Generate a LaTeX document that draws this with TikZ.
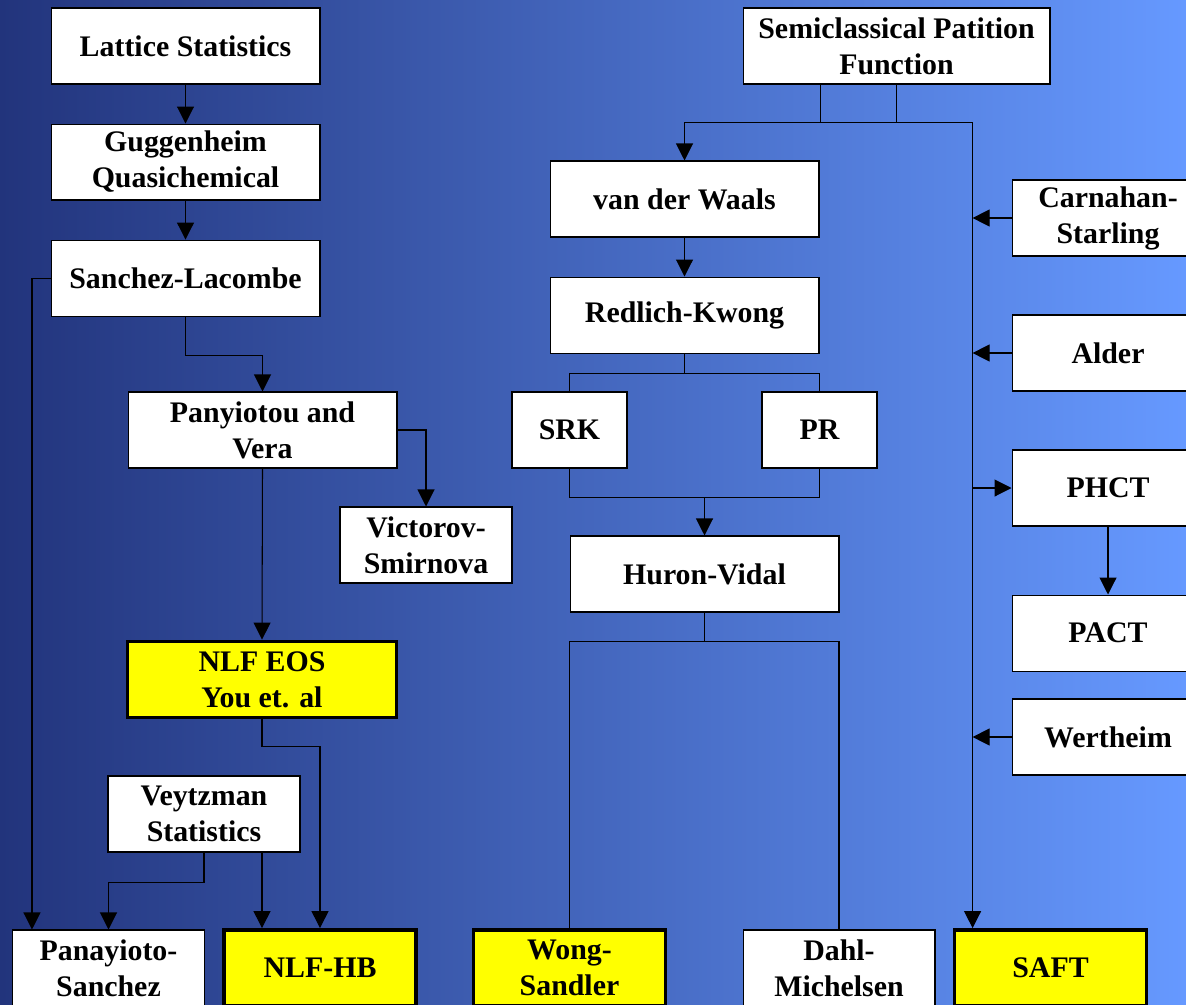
\documentclass[tikz,border=0pt]{standalone}
\usepackage{fontspec}
\setmainfont{Liberation Serif}
\usepackage{tikz}
\usetikzlibrary{arrows.meta,positioning}

\definecolor{bgleft}{RGB}{34,52,124}
\definecolor{bgright}{RGB}{102,153,255}
\definecolor{hiyellow}{RGB}{255,255,0}
\tikzset{
  box/.style={draw, fill=white, line width=0.6pt, minimum height=1.52cm,
    align=center, inner sep=2pt, font=\fontsize{17}{20.5}\selectfont\bfseries},
  hilite/.style={box, fill=hiyellow, line width=2.2pt},
  wide/.style={minimum width=5.38cm}, mid/.style={minimum width=3.84cm},
  small/.style={minimum width=2.3cm},
  arr/.style={-{Triangle[length=0.34cm,width=0.34cm]}, line width=0.6pt},
  lnk/.style={line width=0.6pt}
}

\begin{document}
\begin{tikzpicture}[x=0.02cm,y=-0.02cm]
  \clip (0,0) rectangle (1186,1004);
  \shade[left color=bgleft, right color=bgright] (0,0) rectangle (1186,1004);

  \node[box, wide] (lattice) at (185.5,46) {Lattice Statistics};
  \node[box, wide, below=0.78cm of lattice] (guggen) {Guggenheim\\Quasichemical};
  \node[box, wide, below=0.78cm of guggen] (sanchez) {Sanchez-Lacombe};
  \node[box, wide] (panvera) at (262.5,430) {Panyiotou and\\Vera};
  \node[box, minimum width=3.44cm] (victorov) at (426,545) {Victorov-\\Smirnova};
  \node[hilite, wide] (nlfeos) at (262,679.5) {NLF EOS\\You et. al};
  \node[box, mid] (veytzman) at (204,814) {Veytzman\\Statistics};

  \node[box, mid] (panasan) at (108.5,968) {Panayioto-\\Sanchez};
  \node[hilite, mid] (nlfhb) at (320,968) {NLF-HB};
  \node[hilite, mid] (wong) at (569.5,968) {Wong-\\Sandler};
  \node[box, mid] (dahl) at (839,968) {Dahl-\\Michelsen};
  \node[hilite, mid] (saft) at (1050.5,968) {SAFT};

  \node[box, minimum width=6.14cm] (semi) at (896.5,46) {Semiclassical Patition\\Function};
  \node[box, wide] (vdw) at (684.5,199) {van der Waals};
  \node[box, wide, below=0.78cm of vdw] (redlich) {Redlich-Kwong};
  \node[box, small] (srk) at (569.5,430) {SRK};
  \node[box, small] (pr) at (819.5,430) {PR};
  \node[box, wide] (huron) at (704.5,574) {Huron-Vidal};

  \node[box, mid] (carnahan) at (1108,218) {Carnahan-\\Starling};
  \node[box, mid] (alder) at (1108,353) {Alder};
  \node[box, mid] (phct) at (1108,488) {PHCT};
  \node[box, mid, below=1.36cm of phct] (pact) {PACT};
  \node[box, mid] (wertheim) at (1108,737) {Wertheim};

  % left tree
  \draw[arr] (lattice) -- (guggen);
  \draw[arr] (guggen) -- (sanchez);
  \draw[arr] (sanchez.south) -- ++(0,39) -| (panvera.north);
  \draw[arr] (sanchez.west) -| ([xshift=0.4cm]panasan.north west);
  \draw[arr] (panvera.east) -| (victorov.north);
  \draw[arr] (panvera.south) -- (nlfeos.north);
  \draw[arr] (nlfeos.south) -- ++(0,27) -| (nlfhb.north);
  \draw[arr] (veytzman.south) -- ++(0,30) -| (panasan.north);
  \draw[arr] (veytzman.south -| nlfeos) -- (nlfhb.north -| nlfeos);

  % cubic branch
  \coordinate (split) at ([yshift=-0.76cm]semi.south);
  \coordinate (bus) at ([xshift=0.4cm]saft.north west);
  \draw[lnk] (semi.south) -- (split);
  \draw[lnk] ([xshift=-1.53cm]semi.south) -- ++(0,38);
  \draw[arr] (split) -| (vdw.north);
  \draw[arr] (vdw) -- (redlich);
  \draw[lnk] (redlich.south) -- ++(0,20) coordinate (rk);
  \draw[lnk] (srk.north) |- (rk) -| (pr.north);
  \draw[lnk] (srk.south) -- ++(0,29) coordinate (cub) -| (pr.south);
  \draw[arr] (huron.north |- cub) -- (huron.north);
  \draw[lnk] (huron.south) -- ++(0,29) coordinate (hv);
  \draw[lnk] (wong.north) |- (hv) -| (dahl.north);

  % SAFT bus
  \draw[arr] (split) -| (bus);
  \draw[arr] (carnahan.west) -- (carnahan.west -| bus);
  \draw[arr] (alder.west) -- (alder.west -| bus);
  \draw[arr] (bus |- phct.west) -- (phct.west);
  \draw[arr] (phct) -- (pact);
  \draw[arr] (wertheim.west) -- (wertheim.west -| bus);
\end{tikzpicture}
\end{document}
